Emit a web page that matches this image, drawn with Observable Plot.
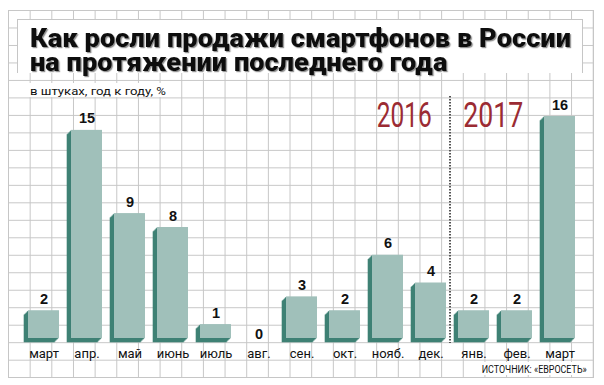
<!DOCTYPE html>
<html>
<head>
<meta charset="utf-8">
<script src="https://cdn.jsdelivr.net/npm/d3@7"></script>
<script src="https://cdn.jsdelivr.net/npm/@observablehq/plot@0.6"></script>
<style>
  html, body { margin: 0; padding: 0; background: #fff; }
  #wrap { position: relative; width: 604px; height: 385px; overflow: hidden; background: #fff; }
  #grid {
    position: absolute; left: 8px; top: 10px; width: 585px; height: 367px;
    background-image:
      linear-gradient(to right, #c6c6c6 1px, transparent 1px),
      linear-gradient(to bottom, #c6c6c6 1px, transparent 1px);
    background-size: 21.667px 17.49px;
    border-right: 1px solid #c6c6c6; border-bottom: 1px solid #c6c6c6;
  }
  #titlebox {
    position: absolute; left: 17px; top: 19px; width: 564px; height: 53px;
    background: #fff; border: 1px solid #c6c6c6; border-bottom: none;
  }
  #chart { position: absolute; left: 0; top: 0; }
  #over { position: absolute; left: 0; top: 0; pointer-events: none; }
</style>
</head>
<body>
<div id="wrap">
  <div id="grid"></div>
  <div id="titlebox"></div>
  <div id="chart"></div>
  <svg id="over" width="604" height="385">
    <defs>
      <filter id="shadow" x="-5%" y="-20%" width="110%" height="140%">
        <feDropShadow dx="1.2" dy="1.2" stdDeviation="0.4" flood-color="#888" flood-opacity="0.9"/>
      </filter>
    </defs>
  </svg>
</div>
<script>
const titleLines = ["Как росли продажи смартфонов в России", "на протяжении последнего года"];
const subtitle = "в штуках, год к году, %";
const months = ["март", "апр.", "май", "июнь", "июль", "авг.", "сен.", "окт.", "нояб.", "дек.", "янв.", "фев.", "март"];
const values = [2, 15, 9, 8, 1, 0, 3, 2, 6, 4, 2, 2, 16];
const yearLabels = ["2016", "2017"];
const firstIndexOf2017 = 10;
const source = "ИСТОЧНИК: «ЕВРОСЕТЬ»";

const data = months.map((m, i) => ({i, month: m, value: values[i]}));
const light = "#a0c0ba";
const dark = "#3f8175";

const chart = Plot.plot({
  width: 604,
  height: 385,
  marginLeft: 10.4,
  marginRight: 10.6,
  marginTop: 116,
  marginBottom: 47,
  style: {background: "transparent", fontFamily: "Roboto, 'Noto Sans', sans-serif", fontSize: "13px", color: "#111"},
  x: {type: "band", domain: d3.range(months.length), padding: 0.28, tickFormat: i => months[i], tickSize: 0, tickPadding: 10, label: null},
  y: {domain: [0, 16], axis: null},
  marks: [
    Plot.ruleX([firstIndexOf2017], {x: d => d, dx: -24, stroke: "#555", strokeWidth: 2, strokeDasharray: "1.5,1.5", insetTop: -20, insetBottom: -5}),
    ...[4.3, 3.5, 2.5, 1.5, 0.7].map(k => Plot.barY(data, {x: "i", y: "value", fill: dark, dx: -k, dy: k})),
    Plot.barY(data, {x: "i", y: "value", fill: light}),
    Plot.text(data, {filter: d => d.value > 0, x: "i", y: "value", text: d => String(d.value), dy: -7, lineAnchor: "bottom", fontWeight: "bold", fontSize: 14.5, fontFamily: "'Liberation Sans', Arial, sans-serif", fill: "#111"}),
    Plot.text(data, {filter: d => d.value === 0, x: "i", y: "value", text: d => String(d.value), dy: 0, lineAnchor: "bottom", fontWeight: "bold", fontSize: 14.5, fontFamily: "'Liberation Sans', Arial, sans-serif", fill: "#111"})
  ]
});
document.getElementById("chart").appendChild(chart);

// Overlay texts
const svg = d3.select("#over");
function addText(str, x, y, opts) {
  const t = svg.append("text").attr("x", x).attr("y", y).text(str)
    .attr("font-family", opts.family).attr("font-size", opts.size)
    .attr("font-weight", opts.weight || "normal").attr("fill", opts.fill || "#111");
  if (opts.anchor) t.attr("text-anchor", opts.anchor);
  return t;
}
function fit(t, w) { t.attr("textLength", w).attr("lengthAdjust", "spacingAndGlyphs"); }

// title: one text element, two lines
const title = svg.append("text")
  .attr("font-family", "Roboto, 'DejaVu Sans', sans-serif")
  .attr("font-size", 25.5).attr("font-weight", 900).attr("fill", "#111")
  .attr("filter", "url(#shadow)");
const ts1 = title.append("tspan").attr("x", 30).attr("y", 46.7).text(titleLines[0]);
const ts2 = title.append("tspan").attr("x", 30).attr("y", 70.7).text(titleLines[1]);
const k = 541 / ts1.node().getComputedTextLength();
const w2 = ts2.node().getComputedTextLength() * k;
fit(ts1, 541); fit(ts2, w2);

// subtitle
svg.append("rect").attr("x", 28).attr("y", 83).attr("width", 140).attr("height", 14).attr("fill", "#fff");
const st = addText(subtitle, 30, 95, {family: "Roboto, sans-serif", size: 11.5});
fit(st, 136);

// year labels
const yf = {family: "Roboto, sans-serif", size: 35, weight: 400, fill: "#9b2b33"};
const y1 = addText(yearLabels[0], 376.7, 127.3, yf); fit(y1, 55);
const y2 = addText(yearLabels[1], 463.3, 127.3, yf); fit(y2, 60);

// source
svg.append("rect").attr("x", 480).attr("y", 362).attr("width", 109).attr("height", 13).attr("fill", "#fff");
const so = addText(source, 481.7, 372.7, {family: "Roboto, sans-serif", size: 10.5});
fit(so, 105);
</script>
</body>
</html>
